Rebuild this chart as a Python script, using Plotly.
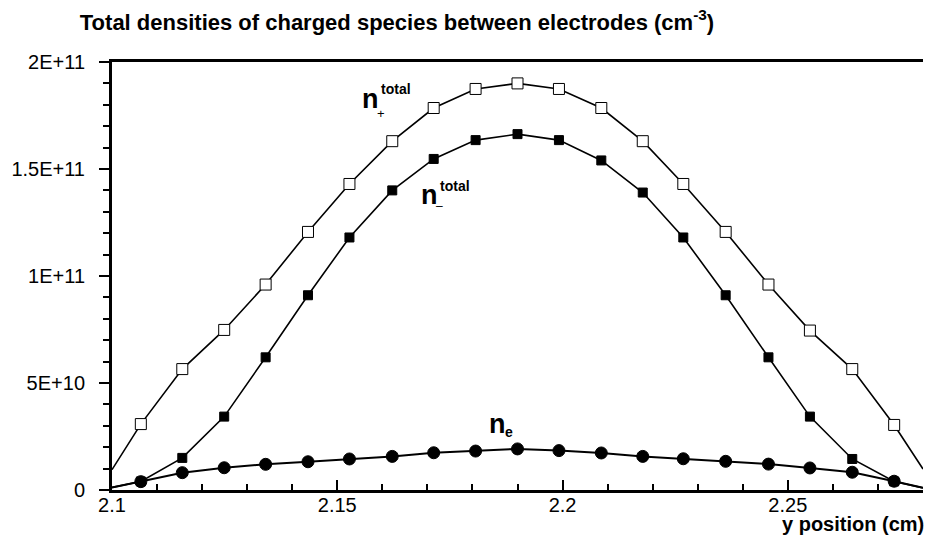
"""
Densités totales des espèces chargées entre les électrodes
"""

import plotly.graph_objects as go

# positions (cm) et densités (cm^-3)
y_position = [2.1, 2.1064, 2.1156, 2.1249, 2.1341, 2.1435, 2.1527, 2.1622, 2.1714, 2.1807, 2.19,
              2.1992, 2.2086, 2.2178, 2.2268, 2.2362, 2.2457, 2.2549, 2.2643, 2.2736, 2.28]
n_plus = [9.5e9, 3.08e10, 5.65e10, 7.48e10, 9.6e10, 1.206e11, 1.43e11, 1.63e11, 1.785e11, 1.874e11, 1.90e11,
          1.874e11, 1.785e11, 1.63e11, 1.43e11, 1.206e11, 9.6e10, 7.45e10, 5.65e10, 3.04e10, 9.8e9]
n_minus = [1.2e9, 4.0e9, 1.5e10, 3.43e10, 6.2e10, 9.1e10, 1.18e11, 1.40e11, 1.547e11, 1.635e11, 1.663e11,
           1.635e11, 1.54e11, 1.39e11, 1.18e11, 9.1e10, 6.2e10, 3.43e10, 1.45e10, 4.0e9, 1.0e9]
n_e = [1.2e9, 3.9e9, 8.1e9, 1.04e10, 1.2e10, 1.32e10, 1.45e10, 1.57e10, 1.74e10, 1.82e10, 1.92e10,
       1.84e10, 1.73e10, 1.57e10, 1.46e10, 1.34e10, 1.21e10, 1.03e10, 8.3e9, 4.1e9, 1.0e9]

x_ticks = [2.1, 2.15, 2.2, 2.25]
x_ticktext = ['2.1', '2.15', '2.2', '2.25']
y_ticks = [0, 5e10, 1e11, 1.5e11, 2e11]
y_ticktext = ['0', '5E+10', '1E+11', '1.5E+11', '2E+11']

FONT = 'Arial, Liberation Sans, sans-serif'


def sizes(s):
    # pas de symbole aux extrémités
    return [0] + [s] * (len(y_position) - 2) + [0]


fig = go.Figure()

fig.add_trace(go.Scatter(
    x=y_position, y=n_e, mode='lines+markers', name='n_e',
    line=dict(color='black', width=2),
    marker=dict(symbol='circle', size=sizes(12), color='black', opacity=1,
                line=dict(color='black', width=1))
))
fig.add_trace(go.Scatter(
    x=y_position, y=n_minus, mode='lines+markers', name='n-',
    line=dict(color='black', width=1.6),
    marker=dict(symbol='square', size=sizes(9), color='black', opacity=1,
                line=dict(color='black', width=1))
))
fig.add_trace(go.Scatter(
    x=y_position, y=n_plus, mode='lines+markers', name='n+',
    line=dict(color='black', width=1.6),
    marker=dict(symbol='square', size=sizes(11), color='white', opacity=1,
                line=dict(color='black', width=1))
))

# pixels -> coordonnées papier
L, R, T, B = 107, 923, 62, 490


def px(xp):
    return (xp - L) / (R - L)


def py(yp):
    return (B - yp) / (B - T)


def label(text, xp, yp, size, bold=True, anchor='left'):
    fig.add_annotation(
        x=px(xp), y=py(yp), xref='paper', yref='paper', text=f'<b>{text}</b>' if bold else text,
        showarrow=False, xanchor=anchor, yanchor='middle',
        font=dict(family=FONT, size=size, color='black')
    )


# n+ total
label('n', 357, 99, 27)
label('total', 376, 89, 14)
label('+', 372, 113, 13, bold=False)
# n- total
label('n', 416, 195, 27)
label('total', 435, 186, 14)
label('–', 431, 206, 12, bold=False)
# n_e
label('n', 484, 424, 27)
label('e', 500, 432, 14)

# titre de l'axe x
label('y position (cm)', 926, 524, 20, anchor='right')

fig.update_layout(
    width=934, height=548,
    margin=dict(l=L, r=934 - R, t=T, b=548 - B),
    paper_bgcolor='white', plot_bgcolor='white',
    showlegend=False,
    title=dict(
        text='<b>Total densities of charged species between electrodes (cm<sup>-3</sup>)</b>',
        x=397 / 934, xanchor='center', y=1 - 22 / 548, yanchor='middle',
        font=dict(family=FONT, size=22, color='black')
    ),
    xaxis=dict(
        range=[2.1, 2.28], tickmode='array', tickvals=x_ticks, ticktext=x_ticktext,
        showgrid=False, zeroline=False, showline=True, linecolor='black', linewidth=3,
        mirror=True, ticks='inside', ticklen=10, tickwidth=2, tickcolor='black',
        minor=dict(tickmode='linear', tick0=2.1, dtick=0.01, ticks='inside', ticklen=6,
                   tickwidth=1.5, tickcolor='black', showgrid=False),
        tickfont=dict(family=FONT, size=20, color='black'),
        ticklabelstandoff=-5,
    ),
    yaxis=dict(
        range=[0, 2e11], tickmode='array', tickvals=y_ticks, ticktext=y_ticktext,
        showgrid=False, zeroline=False, showline=True, linecolor='black', linewidth=3,
        ticks='outside', ticklen=10, tickwidth=2, tickcolor='black',
        minor=dict(tickmode='linear', tick0=0, dtick=1e10, ticks='outside', ticklen=6,
                   tickwidth=1.5, tickcolor='black', showgrid=False),
        tickfont=dict(family=FONT, size=20, color='black'),
        ticklabelstandoff=10,
    ),
    yaxis2=dict(
        range=[0, 2e11], overlaying='y', side='right', anchor='x',
        tickmode='array', tickvals=y_ticks, showticklabels=False,
        showgrid=False, zeroline=False, showline=True, linecolor='black', linewidth=3,
        ticks='inside', ticklen=10, tickwidth=2, tickcolor='black',
        minor=dict(tickmode='linear', tick0=0, dtick=1e10, ticks='inside', ticklen=6,
                   tickwidth=1.5, tickcolor='black', showgrid=False),
    ),
)

fig.write_html("out.html", config={'displayModeBar': False},
               post_script="document.body.style.margin='0';")
